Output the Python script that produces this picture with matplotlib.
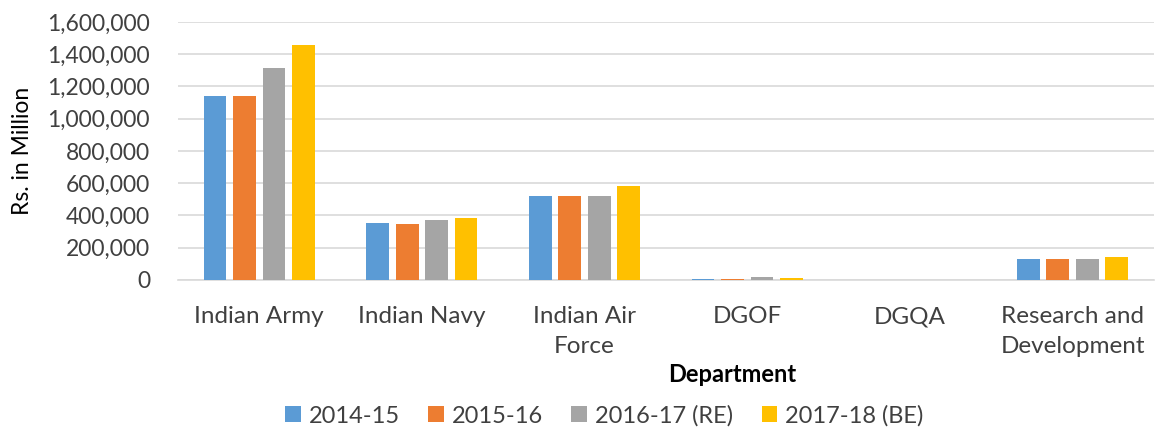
import matplotlib
matplotlib.use("Agg")
import matplotlib.pyplot as plt
import numpy as np
from matplotlib.ticker import FuncFormatter

categories = ["Indian Army", "Indian Navy", "Indian Air\nForce", "DGOF", "DGQA", "Research and\nDevelopment"]
series_names = ["2014-15", "2015-16", "2016-17 (RE)", "2017-18 (BE)"]
v2014 = [1141000, 353000, 521000, 8000, 600, 128000]
v2015 = [1141000, 347000, 521000, 8000, 600, 128000]
v2016 = [1313000, 372000, 521000, 17000, 700, 128000]
v2017 = [1455000, 384000, 583000, 15000, 700, 143000]
colors = ["#5b9bd5", "#ed7d31", "#a5a5a5", "#ffc000"]

plt.rcParams['font.family'] = ['Lato', 'DejaVu Sans']

fig = plt.figure(figsize=(11.55, 4.30), dpi=100)
ax = fig.add_axes([0.154, 0.349, 0.845, 0.600])

x = np.arange(len(categories))
pitch = 0.181
width = 0.14
for i, (vals, c, name) in enumerate(zip([v2014, v2015, v2016, v2017], colors, series_names)):
    ax.bar(x + (i - 1.5) * pitch, vals, width=width, color=c, label=name, zorder=3)

ax.set_xlim(-0.5, len(categories) - 0.5)
ax.set_ylim(0, 1600000)
ax.set_yticks(np.arange(0, 1600001, 200000))
ax.yaxis.set_major_formatter(FuncFormatter(lambda v, p: f"{int(v):,}"))
ax.grid(axis='y', color='#d9d9d9', linewidth=1.2, zorder=0)
for s in ['top', 'right', 'left']:
    ax.spines[s].set_visible(False)
ax.spines['bottom'].set_color('#d9d9d9')
ax.spines['bottom'].set_linewidth(1.2)
ax.tick_params(axis='both', length=0, colors='#404040')
ax.tick_params(axis='y', pad=20, labelsize=16.5)
ax.tick_params(axis='x', pad=19, labelsize=17.5)
ax.set_xticks(x)
ax.set_xticklabels(categories, linespacing=1.5)

ax.set_ylabel("Rs. in Million", fontsize=16.5, color='#000000', labelpad=10)
ax.set_xlabel("Department", fontsize=17, fontweight='bold', color='#000000')
ax.xaxis.set_label_coords(0.568, -0.368)
ax.xaxis.label.set_verticalalignment('center')

ax.legend(loc='center', bbox_to_anchor=(0.437, -0.527), ncol=4, frameon=False,
          fontsize=17, handlelength=0.65, handleheight=0.65, columnspacing=1.2, handletextpad=0.35,
          labelcolor='#404040')

fig.savefig("out.png", dpi=100)
